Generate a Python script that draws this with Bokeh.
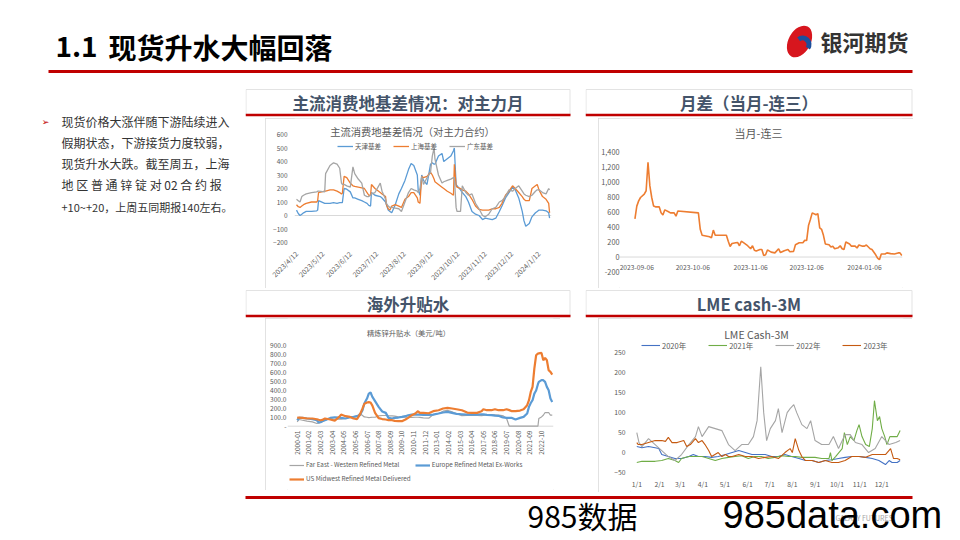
import math
import pandas as pd
from bokeh.plotting import figure
from bokeh.layouts import column, row
from bokeh.models import (Range1d, FixedTicker, Legend, LegendItem, Label, Span, Spacer,
                          NumeralTickFormatter)
from bokeh.core.properties import value
from bokeh.embed import file_html
from bokeh.resources import INLINE

# ---------------------------------------------------------------- data
basis_dates = ["2023-04-12","2023-04-14","2023-04-16","2023-04-18","2023-04-20","2023-04-23","2023-04-29","2023-05-05","2023-05-06","2023-05-07",
               "2023-05-14","2023-05-15","2023-05-20","2023-05-24","2023-05-28","2023-05-31","2023-06-02","2023-06-03","2023-06-05","2023-06-08",
               "2023-06-12","2023-06-15","2023-06-17","2023-06-21","2023-06-25","2023-06-28","2023-07-01","2023-07-03","2023-07-05","2023-07-06",
               "2023-07-10","2023-07-16","2023-07-18","2023-07-22","2023-07-23","2023-07-25","2023-07-27","2023-07-29","2023-08-02","2023-08-06",
               "2023-08-09","2023-08-13","2023-08-17","2023-08-20","2023-08-23","2023-08-27","2023-08-28","2023-08-30","2023-09-01","2023-09-03",
               "2023-09-07","2023-09-11","2023-09-13","2023-09-15","2023-09-16","2023-09-20","2023-09-24","2023-09-26","2023-09-30","2023-10-04",
               "2023-10-07","2023-10-08","2023-10-10","2023-10-11","2023-10-15","2023-10-17","2023-10-21","2023-10-24","2023-10-28","2023-11-01",
               "2023-11-05","2023-11-09","2023-11-12","2023-11-16","2023-11-20","2023-11-24","2023-11-28","2023-12-01","2023-12-05","2023-12-09",
               "2023-12-13","2023-12-16","2023-12-20","2023-12-24","2023-12-26","2023-12-28","2024-01-01","2024-01-04","2024-01-08","2024-01-10",
               "2024-01-12","2024-01-16","2024-01-20","2024-01-23","2024-01-24"]
tianjin_basis = [40,15,0,10,20, 30,30,35,40,110, 90,90,90,95,90, 95,95,95,200,195,
                 175,130,130,120,110, 100,90,75,70,170, 150,140,130,100,80, 40,30,20,80,160,
                 200,260,340,385,370, 300,190,150,300,260, 230,380,390,380,380, 440,460,400,420,440,
                 480,500,230,220,190, 170,140,100,30,10, 0,-30,-20,-25,-30, -20,30,70,130,170,
                 210,190,130,30,-40, -80,-60,-10,20,30, 40,40,35,20,-20]
shanghai_basis = [80,65,60,70,80, 90,100,100,110,170, 180,180,190,190,180, 170,160,165,290,280,
                  240,220,215,210,205, 200,170,150,150,230, 200,170,160,140,80, 50,40,70,80,70,
                  60,120,140,170,170, 130,100,90,290,280, 290,320,300,270,250, 230,210,200,180,165,
                  150,380,220,210,200, 190,180,160,120,70, 45,40,40,40,50, 50,60,90,150,180,
                  220,200,170,140,120, 110,110,200,220,230, 190,140,120,90,20]
guangdong_basis = [120,110,100,140,150, 160,170,175,180,180, 175,310,370,390,380, 350,240,230,230,220,
                   210,360,310,270,240, 150,140,140,150,160, 170,240,180,120,90, 70,60,60,55,50,
                   30,100,170,200,190, 180,170,200,290,230, 280,320,440,500,420, 300,240,250,260,270,
                   280,280,60,30,30, 220,170,150,160,90, 50,0,-10,10,50, 60,100,110,140,190,
                   180,200,220,180,160, 150,140,150,180,190, 190,170,160,200,190]
basis_ticks = ["2023/4/12","2023/5/12","2023/6/12","2023/7/12","2023/8/12","2023/9/12",
               "2023/10/12","2023/11/12","2023/12/12","2024/1/12"]
basis_yticks = [-200, -100, 0, 100, 200, 300, 400, 500, 600]

spread_dates = ["2023-09-05","2023-09-06","2023-09-07","2023-09-08","2023-09-10","2023-09-11","2023-09-12","2023-09-13","2023-09-14","2023-09-15",
                "2023-09-16","2023-09-17","2023-09-18","2023-09-19","2023-09-20","2023-09-21","2023-09-23","2023-09-24","2023-09-26","2023-09-27",
                "2023-09-28","2023-10-09","2023-10-10","2023-10-11","2023-10-13","2023-10-15","2023-10-16","2023-10-17","2023-10-18","2023-10-21",
                "2023-10-24","2023-10-25","2023-10-26","2023-10-27","2023-10-29","2023-10-30","2023-10-31","2023-11-01","2023-11-02","2023-11-04",
                "2023-11-06","2023-11-07","2023-11-08","2023-11-09","2023-11-11","2023-11-12","2023-11-13","2023-11-14","2023-11-15","2023-11-17",
                "2023-11-19","2023-11-21","2023-11-22","2023-11-24","2023-11-26","2023-11-27","2023-11-29","2023-11-30","2023-12-02","2023-12-04",
                "2023-12-05","2023-12-06","2023-12-07","2023-12-08","2023-12-09","2023-12-11","2023-12-12","2023-12-13","2023-12-14","2023-12-15",
                "2023-12-16","2023-12-18","2023-12-19","2023-12-20","2023-12-21","2023-12-23","2023-12-24","2023-12-25","2023-12-26","2023-12-27",
                "2023-12-29","2023-12-30","2024-01-01","2024-01-02","2024-01-03","2024-01-05","2024-01-06","2024-01-07","2024-01-09","2024-01-10",
                "2024-01-12","2024-01-13","2024-01-14","2024-01-15","2024-01-17","2024-01-18","2024-01-20","2024-01-22","2024-01-24","2024-01-25",
                "2024-01-26"]
spread_values = [511,680,750,795,840, 885,1265,950,795,680, 670,670,670,590,560, 630,605,590,590,545,
                 615,590,370,290,280, 270,255,360,290,290, 290,210,140,180,190, 195,150,210,195,160,
                 110,150,90,80,100, 100,20,30,95,65, 55,110,60,85,100, 70,75,165,190,190,
                 225,220,420,500,590, 565,580,390,370,290, 175,165,135,145,110, 125,150,110,100,200,
                 175,145,145,120,160, 145,145,160,110,100, 30,-15,-35,40,40, 55,45,40,55,55,
                 20]
spread_ticks = ["2023-09-06", "2023-10-06", "2023-11-06", "2023-12-06", "2024-01-06"]
spread_yticks = [-200, 0, 200, 400, 600, 800, 1000, 1200, 1400]

prem_months = ["2000-01","2000-03","2000-07","2000-12","2001-06","2001-11","2002-01","2002-03","2002-05","2002-08",
               "2003-02","2003-07","2003-12","2004-02","2004-07","2004-12","2005-04","2005-08","2005-11","2006-02",
               "2006-04","2006-07","2006-09","2006-11","2007-01","2007-04","2007-08","2007-12","2008-04","2008-07",
               "2008-11","2009-02","2009-06","2009-10","2010-02","2010-05","2010-09","2011-01","2011-04","2011-06",
               "2011-10","2012-04","2012-09","2013-03","2013-08","2014-01","2014-06","2014-11","2015-05","2015-11",
               "2016-04","2016-10","2017-03","2017-05","2017-09","2018-02","2018-06","2018-10","2019-02","2019-03",
               "2019-07","2019-10","2020-01","2020-05","2020-10","2021-02","2021-06","2021-08","2021-10","2021-12",
               "2022-02","2022-04","2022-06","2022-07","2022-10","2022-12","2023-02","2023-04","2023-06","2023-08",
               "2023-10"]
far_east = [48,75,67,56,48, 30,35,41,50,67, 86,78,78,80,86, 97,105,115,142,120,
            104,100,97,98,100, 100,116,120,120,116, 116,112,104,100,100, 100,98,100,100,98,
            93,90,130,142,168, 178,160,140,118,120, 123,120,118,122,128, 130,128,123,118,116,
            86,0,0,0,0, 0,0,0,0,0, 0,0,0,86,104, 123,153,153,153,123,
            123]
europe = [67,93,93,86,78, 67,41,45,56,67, 93,100,95,93,86, 100,104,112,123,179,
          254,310,365,377,328, 280,216,165,149,93, 86,93,97,104,112, 123,130,130,130,130,
          127,127,130,142,153, 160,149,138,134,130, 130,130,134,133,127, 123,118,116,100,98,
          93,93,93,75,93, 104,142,216,260,291, 365,400,470,496,515, 515,496,440,403,310,
          272]
us_midwest = [93,97,93,86,86, 78,72,67,70,86, 75,62,104,130,112, 104,86,80,130,200,
              250,265,270,265,230, 150,90,80,75,67, 67,60,56,56,75, 93,123,142,168,149,
              149,145,168,179,198, 205,198,190,179,153, 149,149,168,190,179, 179,190,179,179,179,
              190,180,168,168,175, 190,235,291,384,440, 645,794,813,815,820, 738,765,738,627,608,
              578]
prem_ticks = ["2000-01","2001-02","2002-03","2003-04","2004-05","2005-06","2006-07","2007-08","2008-09","2009-10","2010-11",
              "2011-12","2013-01","2014-02","2015-03","2016-04","2017-05","2018-06","2019-07","2020-08","2021-09","2022-10"]
prem_yticks = [0, 100, 200, 300, 400, 500, 600, 700, 800, 900]

lme_2020_dates = ["1/1","1/8","1/17","1/26","1/31","2/4","2/13","2/22","3/3","3/13","3/19","3/26","4/4","4/13","4/22",
                  "5/2","5/11","5/20","5/29","6/7","6/16","6/25","7/4","7/13","7/22","7/31","8/10","8/19","8/28","9/6",
                  "9/15","9/24","10/3","10/12","10/21","10/31","11/9","11/18","11/27","12/6","12/11","12/15","12/22","12/26"]
lme_2020 = [15,12,15,12,10, -5,-10,-15,-15,-10, -5,-10,-10,-12,-10, -5,0,5,0,-5, -5,-5,-10,-10,-5,
            -10,-15,-20,-20,-25, -20,-18,-15,-12,-10, -10,-12,-15,-20,-30, -20,-25,-25,-20]
lme_2021_dates = ["1/1","1/8","1/17","1/26","2/4","2/13","2/22","2/27","3/3","3/13","3/22","3/31","4/9","4/18","4/27",
                  "5/6","5/15","5/24","6/2","6/11","6/20","6/29","7/8","7/18","7/27","8/5","8/14","8/23","9/1","9/10",
                  "9/20","9/22","9/24","9/29","10/8","10/11","10/15","10/19","10/24","10/28","10/31","11/4","11/9","11/14","11/18",
                  "11/21","11/25","11/28","12/1","12/5","12/8","12/12","12/16","12/22","12/26"]
lme_2021 = [-25,-22,-22,-22,-20, -15,-20,-25,-15,-10, -10,-10,-15,-20,-15, -12,-10,-8,-15,-10,
            -10,-15,-12,-8,-10, -10,-12,-12,-12,-15, -15,0,-20,-10,10, 50,20,40,30,55,
            70,40,20,15,60, 130,80,90,60,40, 20,40,40,40,55]
lme_2022_dates = ["1/1","1/4","1/8","1/17","1/26","2/4","2/13","2/22","3/3","3/13","3/22","3/26","3/31","4/9","4/18",
                  "4/27","5/6","5/15","5/24","6/2","6/9","6/14","6/19","6/23","6/27","7/2","7/9","7/13","7/18","7/25",
                  "7/29","8/3","8/7","8/14","8/21","8/26","9/1","9/10","9/20","9/26","10/3","10/12","10/19","10/26","11/4",
                  "11/13","11/22","12/1","12/11","12/20","12/26"]
lme_2022 = [50,25,15,35,20, 5,-10,-20,-5,20, 40,65,40,65,60, 55,20,5,20,20, 40,80,215,100,30,
            60,80,110,50,100, 110,120,100,70,60, 80,30,20,20,40, 10,45,45,25,20, 0,10,40,20,25,
            30]
lme_2023_dates = ["1/1","1/3","1/8","1/17","1/26","2/4","2/9","2/13","2/18","2/25","3/6","3/10","3/15","3/22","3/26",
                  "3/31","4/4","4/9","4/13","4/22","4/27","5/2","5/6","5/11","5/20","5/29","6/7","6/16","6/25","7/4",
                  "7/13","7/22","7/29","8/1","8/5","8/10","8/14","8/19","8/28","9/6","9/15","9/24","10/3","10/12","10/21",
                  "10/31","11/9","11/18","11/27","12/6","12/13","12/17","12/22","12/26"]
lme_2023 = [25,20,20,25,30, 30,28,38,25,25, 30,15,20,35,25, 30,20,5,-10,0, -10,-5,-10,-10,-5,
            -10,-10,-15,-12,-10, -15,0,10,0,35, 5,-10,-20,-20,-25, -20,-25,-25,-20,-10,
            -10,-12,-5,-5,-5, 10,-15,-15,-18]
lme_ticks = ["1/1","2/1","3/1","4/1","5/1","6/1","7/1","8/1","9/1","10/1","11/1","12/1"]
lme_yticks = [-50, 0, 50, 100, 150, 200, 250]

note_lines = ["现货价格大涨伴随下游陆续进入",
              "假期状态，下游接货力度较弱，",
              "现货升水大跌。截至周五，上海",
              "地 区 普 通 锌 锭 对 02 合 约 报",
              "+10~+20，上周五同期报140左右。"]

# ---------------------------------------------------------------- styles
CJK = "Noto Sans CJK SC"
TXT = "#595959"
RED = "#c00000"
HEAD = "#44546a"
AXL = "#d9d9d9"


def days_since(strs, origin, fmt="%Y-%m-%d"):
    d = pd.to_datetime(strs, format=fmt) - pd.Timestamp(origin)
    return [int(v) for v in d.days]


def month_index(strs):
    return [(int(s[:4]) - 2000) * 12 + int(s[5:7]) - 1 for s in strs]


def day_of_year(strs):
    d = pd.to_datetime(["2001/" + s for s in strs], format="%Y/%m/%d")
    return [int(v) - 1 for v in d.dayofyear]


def deco(w, h):
    p = figure(width=w, height=h, x_range=Range1d(0, w), y_range=Range1d(h, 0),
               x_axis_type=None, y_axis_type=None, output_backend="svg",
               toolbar_location=None, min_border=0)
    p.outline_line_color = None
    return p


def chart(w, h, left, right, bottom, xcal, ycal, fixed_frame=False):
    xv1, xp1, xv2, xp2 = xcal
    yv1, yp1, yv2, yp2 = ycal
    kx = (xv2 - xv1) / (xp2 - xp1)
    ky = (yv2 - yv1) / (yp2 - yp1)
    fb = h - bottom
    xr = Range1d(xv1 + (left - xp1) * kx, xv1 + (w - right - xp1) * kx)
    yr = Range1d(yv1 + (fb - yp1) * ky, yv1 + (0 - yp1) * ky)
    size = dict(frame_width=w - left - right, frame_height=fb) if fixed_frame else dict(width=w, height=h)
    p = figure(x_range=xr, y_range=yr, output_backend="svg",
               toolbar_location=None, min_border_left=left, min_border_right=right,
               min_border_top=0, min_border_bottom=bottom,
               styles={"outline": "1px solid #d9d9d9", "outline-offset": "-1px"}, **size)
    p.grid.visible = False
    p.outline_line_color = None
    for ax in p.axis:
        ax.axis_line_color = None
        ax.major_tick_line_color = None
        ax.minor_tick_line_color = None
        ax.major_label_text_color = TXT
        ax.major_label_text_font = CJK
        ax.major_label_standoff = 4
    for ax in p.yaxis:
        ax.major_tick_out = 0

    def at(px, py):
        return xv1 + (px - xp1) * kx, yv1 + (py - yp1) * ky
    return p, at


def chart_title(p, at, px, py, text, size):
    x, y = at(px, py)
    p.add_layout(Label(x=x, y=y, text=text, text_align="center", text_baseline="middle",
                       text_font=CJK, text_font_size=size, text_color=TXT))


def tick_text(p, xs, ys, labels, size, align="center", angle=0.0):
    p.text(x=xs, y=ys, text=labels, text_font=value(CJK), text_font_size=size,
           text_color=TXT, text_align=align, text_baseline="middle", angle=angle)


def make_legend(items, loc, size, gw, gh, spacing, ncols=None):
    kw = dict(items=items, orientation="horizontal", location=loc,
              background_fill_alpha=0, border_line_alpha=0,
              label_text_font=CJK, label_text_font_size=size, label_text_color=TXT,
              glyph_width=gw, glyph_height=gh, label_height=gh, label_standoff=2,
              spacing=spacing, padding=2, margin=0)
    if ncols:
        kw["ncols"] = ncols
    return Legend(**kw)


# ---------------------------------------------------------------- chart 1 : basis
bx = days_since(basis_dates, "2023-04-12")
btk = days_since(basis_ticks, "2023-04-12", "%Y/%m/%d")
tl, tl_at = chart(295, 170, 29, 9, 46, (0, 31.0, 275, 273.5), (600, 16, -200, 124))
tl.add_layout(Span(location=0, dimension="width", line_color=AXL, line_width=1, level="underlay"))
r_tj = tl.line(x=bx, y=tianjin_basis, line_color="#5b9bd5", line_width=1.3)
r_sh = tl.line(x=bx, y=shanghai_basis, line_color="#ed7d31", line_width=1.3)
r_gd = tl.line(x=bx, y=guangdong_basis, line_color="#a5a5a5", line_width=1.3)
tl.xaxis.ticker = FixedTicker(ticks=btk)
tl.xaxis.major_label_overrides = {t: s for t, s in zip(btk, basis_ticks)}
tl.xaxis.major_label_orientation = math.pi / 4
tl.xaxis.major_label_text_font_size = "7px"
tl.yaxis.ticker = FixedTicker(ticks=basis_yticks)
tl.yaxis.major_label_text_font_size = "6.5px"
tl.yaxis.major_label_standoff = 7
chart_title(tl, tl_at, 147, 13, "主流消费地基差情况（对主力合约）", "10.3px")
tl.add_layout(make_legend([LegendItem(label="天津基差", renderers=[r_tj]),
                           LegendItem(label="上海基差", renderers=[r_sh]),
                           LegendItem(label="广东基差", renderers=[r_gd])],
                          (41, 89.3), "6.5px", 16, 8, 12))

# ---------------------------------------------------------------- chart 2 : spread
sx = days_since(spread_dates, "2023-09-06")
stk = days_since(spread_ticks, "2023-09-06")
tr, tr_at = chart(314, 170, 20, 11, 0, (0, 37.3, 122, 265.0), (1400, 33.7, -200, 153.5), fixed_frame=True)
tr.xaxis.visible = False
tr.add_layout(Span(location=0, dimension="width", line_color=AXL, line_width=1, level="underlay"))
tr.line(x=sx, y=spread_values, line_color="#ed7d31", line_width=1.6)
tick_text(tr, stk, [tr_at(0, 148.5)[1]] * len(stk), spread_ticks, "6.7px")
tr.yaxis.ticker = FixedTicker(ticks=spread_yticks)
tr.yaxis.formatter = NumeralTickFormatter(format="0,0")
tr.yaxis.major_label_text_font_size = "7.3px"
tr.yaxis.major_label_standoff = 0
chart_title(tr, tr_at, 159, 14, "当月-连三", "11px")

# ---------------------------------------------------------------- chart 3 : premiums
mx = month_index(prem_months)
mtk = month_index(prem_ticks)
bl, bl_at = chart(295, 172, 22, 7, 0, (0, 31.7, 273, 276.0), (900, 27.3, 0, 107.7))
bl.xaxis.visible = False
bl.add_layout(Span(location=0, dimension="width", line_color=AXL, line_width=1, level="underlay"))
r_fe = bl.line(x=mx, y=far_east, line_color="#a5a5a5", line_width=1.2)
r_eu = bl.line(x=mx, y=europe, line_color="#5b9bd5", line_width=2.2)
r_us = bl.line(x=mx, y=us_midwest, line_color="#ed7d31", line_width=2.2)
tick_text(bl, mtk, [bl_at(0, 112)[1]] * len(mtk), prem_ticks, "6.6px", align="right", angle=math.pi / 2)
bl.yaxis.ticker = FixedTicker(ticks=prem_yticks)
bl.yaxis.major_label_overrides = {v: ("-" if v == 0 else f"{v:.1f}") for v in prem_yticks}
bl.yaxis.major_label_text_font_size = "6.6px"
bl.yaxis.major_label_standoff = 1
chart_title(bl, bl_at, 143, 14, "精炼锌升贴水（美元/吨）", "7.3px")
bl.add_layout(make_legend([LegendItem(label="Far East - Western Refined Metal", renderers=[r_fe]),
                           LegendItem(label="Europe Refined Metal Ex-Works", renderers=[r_eu]),
                           LegendItem(label="US Midwest Refined Metal Delivered", renderers=[r_us])],
                          (0, 4.3), "6.3px", 15, 10, 4, ncols=2))

# ---------------------------------------------------------------- chart 4 : LME cash-3M
br, br_at = chart(314, 174, 32, 9, 0, (0, 38.3, 334, 283.3), (250, 34.3, -50, 154))
br.xaxis.visible = False
r20 = br.line(x=day_of_year(lme_2020_dates), y=lme_2020, line_color="#4472c4", line_width=1.1)
r21 = br.line(x=day_of_year(lme_2021_dates), y=lme_2021, line_color="#70ad47", line_width=1.1)
r22 = br.line(x=day_of_year(lme_2022_dates), y=lme_2022, line_color="#a5a5a5", line_width=1.1)
r23 = br.line(x=day_of_year(lme_2023_dates), y=lme_2023, line_color="#c55a11", line_width=1.1)
ltk = day_of_year(lme_ticks)
tick_text(br, ltk, [br_at(0, 165)[1]] * len(ltk), lme_ticks, "6.8px")
br.yaxis.ticker = FixedTicker(ticks=lme_yticks)
br.yaxis.major_label_text_font_size = "6.8px"
br.yaxis.major_label_standoff = 5
chart_title(br, br_at, 158, 16, "LME Cash-3M", "10.5px")
br.add_layout(make_legend([LegendItem(label="2020年", renderers=[r20]),
                           LegendItem(label="2021年", renderers=[r21]),
                           LegendItem(label="2022年", renderers=[r22]),
                           LegendItem(label="2023年", renderers=[r23])],
                          (9, 139.5), "7.5px", 19, 10, 22))

# ---------------------------------------------------------------- slide decorations
hdr = deco(952, 88)
hdr.text(x=[55], y=[46], text=["1.1"], text_font=value(CJK), text_font_style="bold",
         text_font_size="28px", text_color="#000000", text_baseline="middle")
hdr.text(x=[108], y=[46], text=["现货升水大幅回落"], text_font=value(CJK), text_font_style="bold",
         text_font_size="28px", text_color="#000000", text_baseline="middle")
hdr.line(x=[48, 912], y=[71, 71], line_color=RED, line_width=3)
hdr.ellipse(x=[799], y=[41], width=[22], height=[34], angle=[-0.5], fill_color="#d7161e", line_color=None)
hdr.annular_wedge(x=[802], y=[44], inner_radius=4, outer_radius=9, start_angle=-0.6, end_angle=2.2,
                  fill_color="#1d4f9c", line_color=None)
hdr.text(x=[820], y=[40], text=["银河期货"], text_font=value(CJK), text_font_style="bold",
         text_font_size="22px", text_color="#333333", text_baseline="middle")

note = deco(245, 404)
note.text(x=[45], y=[33], text=["➢"], text_font=value("DejaVu Sans"), text_font_size="9px",
          text_color=RED, text_baseline="middle", text_align="center")
note.text(x=[61] * 4, y=[33, 54, 75, 96], text=note_lines[:4], text_font=value(CJK),
          text_font_size="12px", text_color="#333333", text_baseline="middle")
note.text(x=[61], y=[118], text=note_lines[4:], text_font=value(CJK),
          text_font_size="11px", text_color="#333333", text_baseline="middle")


def section(w, box_w, title, top, red_y, ty):
    p = deco(w, 30)
    p.quad(left=[0.5], right=[box_w - 0.5], top=[top], bottom=[red_y], fill_color=None,
           line_color="#e3e3e3", line_width=1)
    p.line(x=[0, box_w], y=[red_y, red_y], line_color=RED, line_width=2.5)
    p.text(x=[box_w / 2], y=[ty], text=[title], text_font=value(CJK), text_font_style="bold",
           text_font_size="16.5px", text_color=HEAD, text_align="center", text_baseline="middle")
    return p


hdr_tl = section(340, 325, "主流消费地基差情况：对主力月", 1, 26.5, 14)
hdr_tr = section(367, 327, "月差（当月-连三）", 1, 26.5, 14)
hdr_bl = section(340, 325, "海外升贴水", 2, 27.5, 15)
hdr_br = section(367, 327, "LME cash-3M", 2, 27.5, 15)

foot = deco(952, 44)
foot.line(x=[245, 912], y=[5, 5], line_color=RED, line_width=3)
foot.text(x=[835], y=[25], text=["GALAXY FUTURES"], text_font=value(CJK), text_font_size="7px",
          text_color="#a6a6a6", text_baseline="middle")
foot.text(x=[905], y=[25], text=["4"], text_font=value(CJK), text_font_size="8px",
          text_color="#a6a6a6", text_baseline="middle")
foot.text(x=[527], y=[22], text=["985数据"], text_font=value(CJK), text_font_size="30px",
          text_color="#000000", text_baseline="middle")
foot.text(x=[722], y=[22], text=["985data.com"], text_font=value("Liberation Sans"), text_font_size="38px",
          text_color="#000000", text_baseline="middle")

left_charts = column(
    hdr_tl,
    row(Spacer(width=20, height=170), tl, Spacer(width=25, height=170)),
    hdr_bl,
    row(Spacer(width=20, height=174), bl, Spacer(width=25, height=174)),
)
right_charts = column(
    hdr_tr,
    row(Spacer(width=13, height=170), tr),
    hdr_br,
    row(Spacer(width=13, height=174), br),
)
page = column(hdr, row(note, left_charts, right_charts), foot)

open("out.html", "w").write(file_html(page, INLINE))
